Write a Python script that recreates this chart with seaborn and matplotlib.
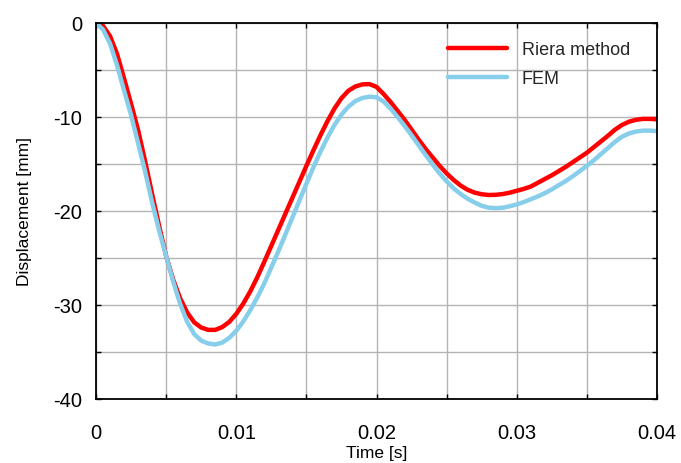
import numpy as np
import pandas as pd
import matplotlib
matplotlib.use("Agg")
import matplotlib.pyplot as plt
import seaborn as sns
from matplotlib.ticker import MultipleLocator, FormatStrFormatter, FuncFormatter

# Time axis in milliseconds (converted to seconds below)
time_ms = [0.0, 0.5, 1.0, 1.5, 2.0, 2.5, 3.0, 3.5, 4.0, 4.5,
           5.0, 5.5, 6.0, 6.5, 7.0, 7.5, 8.0, 8.5, 9.0, 9.5,
           10.0, 10.5, 11.0, 11.5, 12.0, 12.5, 13.0, 13.5, 14.0, 14.5,
           15.0, 15.5, 16.0, 16.5, 17.0, 17.5, 18.0, 18.5, 19.0, 19.5,
           20.0, 20.5, 21.0, 21.5, 22.0, 22.5, 23.0, 23.5, 24.0, 24.5,
           25.0, 25.5, 26.0, 26.5, 27.0, 27.5, 28.0, 28.5, 29.0, 29.5,
           30.0, 30.5, 31.0, 31.5, 32.0, 32.5, 33.0, 33.5, 34.0, 34.5,
           35.0, 35.5, 36.0, 36.5, 37.0, 37.5, 38.0, 38.5, 39.0, 39.5,
           40.0]

# Displacement [mm] from the Riera method
riera_mm = [0.0, -0.3, -1.4, -3.3, -5.9, -8.6, -11.4, -14.7, -18.2, -21.6,
            -24.8, -27.3, -29.3, -30.8, -31.85, -32.4, -32.65, -32.65, -32.35, -31.8,
            -30.95, -29.85, -28.55, -27.05, -25.4, -23.7, -22.0, -20.3, -18.6, -16.9,
            -15.2, -13.55, -11.95, -10.45, -9.1, -8.0, -7.2, -6.75, -6.53, -6.5,
            -6.8, -7.55, -8.4, -9.35, -10.3, -11.35, -12.4, -13.4, -14.3, -15.2,
            -16.0, -16.7, -17.3, -17.75, -18.05, -18.22, -18.3, -18.28, -18.2, -18.05,
            -17.85, -17.65, -17.4, -17.0, -16.6, -16.2, -15.75, -15.3, -14.8, -14.3,
            -13.8, -13.2, -12.6, -12.0, -11.35, -10.85, -10.5, -10.3, -10.2, -10.2,
            -10.25]

# Displacement [mm] from the finite element model
fem_mm = [0.0, -0.7, -2.2, -4.5, -7.2, -9.8, -12.8, -15.8, -19.1, -22.1,
          -24.8, -27.5, -29.9, -31.8, -33.1, -33.8, -34.1, -34.2, -34.0, -33.5,
          -32.75, -31.75, -30.55, -29.2, -27.7, -26.0, -24.3, -22.5, -20.7, -18.9,
          -17.1, -15.35, -13.7, -12.2, -10.85, -9.75, -8.9, -8.3, -7.97, -7.84,
          -7.9, -8.35, -9.1, -10.0, -10.95, -11.95, -13.0, -14.05, -15.05, -16.0,
          -16.85, -17.6, -18.2, -18.7, -19.1, -19.45, -19.65, -19.7, -19.65, -19.5,
          -19.3, -19.05, -18.75, -18.45, -18.1, -17.7, -17.25, -16.8, -16.3, -15.75,
          -15.2, -14.6, -13.95, -13.3, -12.65, -12.1, -11.75, -11.55, -11.45, -11.45,
          -11.5]

series_names = ["Riera method", "FEM"]
series_colors = ["#ff0000", "#87ceeb"]

sns.set_theme(style="white")
plt.rcParams["font.family"] = ["Liberation Sans", "DejaVu Sans"]

t_s = np.array(time_ms) / 1000.0
df = pd.concat([
    pd.DataFrame({"time": t_s, "disp": riera_mm, "method": series_names[0]}),
    pd.DataFrame({"time": t_s, "disp": fem_mm, "method": series_names[1]}),
], ignore_index=True)

fig = plt.figure(figsize=(6.81, 4.64), dpi=100)
ax = fig.add_axes([0.141, 0.138, 0.8238, 0.8103])

sns.lineplot(data=df, x="time", y="disp", hue="method",
             hue_order=series_names, palette=series_colors,
             linewidth=3.2, ax=ax, estimator=None, sort=False)

ax.set_xlim(0, 0.04)
ax.set_ylim(-40, 0)
ax.xaxis.set_major_locator(MultipleLocator(0.01))
ax.xaxis.set_minor_locator(MultipleLocator(0.005))
ax.yaxis.set_major_locator(MultipleLocator(10))
ax.yaxis.set_minor_locator(MultipleLocator(5))
ax.xaxis.set_major_formatter(FuncFormatter(
    lambda v, p: "0" if abs(v) < 1e-12 else f"{v:g}"))
ax.yaxis.set_major_formatter(FormatStrFormatter("%d"))

ax.grid(True, which="both", color="#b4b4b4", linewidth=1.0)
ax.set_axisbelow(True)
for s in ax.spines.values():
    s.set_visible(True)
    s.set_color("black")
    s.set_linewidth(1.3)

ax.tick_params(which="both", direction="in", length=3.5, width=1.0,
               color="black", top=True, right=True, bottom=True, left=True)
ax.tick_params(axis="x", which="major", labelsize=14.5, pad=17.5, colors="black")
ax.tick_params(axis="y", which="major", labelsize=14.5, pad=10, colors="black")

ax.set_xlabel("Time [s]", fontsize=12.5, labelpad=2, color="black")
ax.set_ylabel("Displacement [mm]", fontsize=12.5, labelpad=15, color="black")

leg = ax.legend(loc="upper left", bbox_to_anchor=(0.627, 0.952),
                frameon=False, fontsize=13, handlelength=3.3,
                handletextpad=0.8, labelspacing=0.66,
                borderpad=0, borderaxespad=0)
for line in leg.get_lines():
    line.set_linewidth(3.2)

fig.savefig("out.png", dpi=100)
